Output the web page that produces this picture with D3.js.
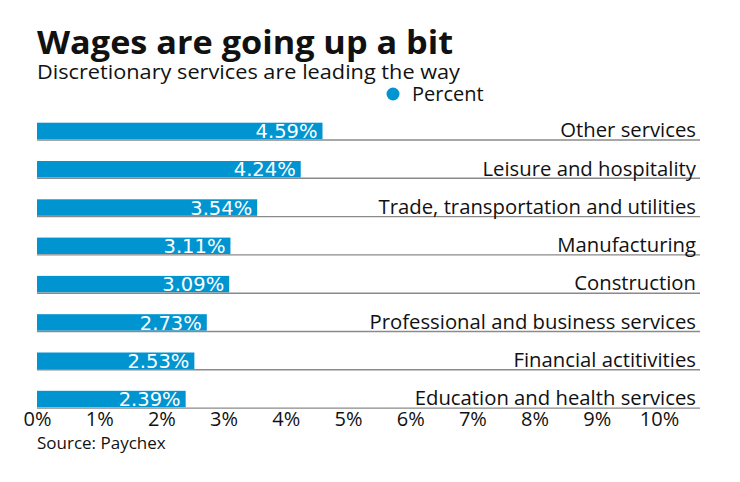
<!DOCTYPE html>
<html><head><meta charset="utf-8">
<script src="https://cdn.jsdelivr.net/npm/d3@7"></script>
<style>body{margin:0;background:#fff}svg{display:block}</style>
</head><body>
<svg id="c" width="740" height="482"></svg>
<script>
const categories = ["Other services","Leisure and hospitality","Trade, transportation and utilities","Manufacturing","Construction","Professional and business services","Financial actitivities","Education and health services"];
const percentValues = [4.59,4.24,3.54,3.11,3.09,2.73,2.53,2.39];
const tickValues = [0,1,2,3,4,5,6,7,8,9,10];
const titleText = "Wages are going up a bit";
const subtitleText = "Discretionary services are leading the way";
const legendText = "Percent";
const sourceText = "Source: Paychex";

const svg = d3.select("#c");
const font = "'Open Sans', sans-serif";
const blue = "#0095d1";

const x = d3.scaleLinear().domain([0,10]).range([37,659]);

function fit(sel, w){
  sel.attr("textLength", w).attr("lengthAdjust","spacingAndGlyphs");
}

const t = svg.append("text").attr("x",37).attr("y",54).attr("font-family",font).attr("font-weight",700)
  .attr("font-size",32).attr("fill","#111").text(titleText);
fit(t, 416);
const st = svg.append("text").attr("x",37).attr("y",79).attr("font-family",font)
  .attr("font-size",19.5).attr("fill","#111").text(subtitleText);
fit(st, 423);
svg.append("circle").attr("cx",393).attr("cy",94).attr("r",6.5).attr("fill",blue);
svg.append("text").attr("x",412).attr("y",101).attr("font-family",font)
  .attr("font-size",20).attr("fill","#111").text(legendText);

const rows = svg.append("g").selectAll("g").data(categories).join("g");
const bandStep = 38.3;
const barH = 16.5;
rows.append("rect")
  .attr("x", x(0))
  .attr("y", (d,i)=> 122.7 + i*bandStep)
  .attr("width", (d,i)=> x(percentValues[i]) - x(0))
  .attr("height", barH)
  .attr("fill", blue);
rows.append("line")
  .attr("x1", x(0)).attr("x2", 700)
  .attr("y1", (d,i)=> 122.7 + i*bandStep + barH + 0.8)
  .attr("y2", (d,i)=> 122.7 + i*bandStep + barH + 0.8)
  .attr("stroke","#8a8a8a").attr("stroke-width",1.4);
rows.append("text")
  .attr("x", (d,i)=> x(percentValues[i]) - 5)
  .attr("y", (d,i)=> 122.7 + i*bandStep + 15.3)
  .attr("text-anchor","end")
  .attr("font-family","'DejaVu Sans', sans-serif")
  .attr("font-size",19.5).attr("fill","#fff")
  .text((d,i)=> percentValues[i].toFixed(2) + "%");
rows.append("text")
  .attr("x", 696)
  .attr("y", (d,i)=> 122.7 + i*bandStep + 14.5)
  .attr("text-anchor","end")
  .attr("font-family",font)
  .attr("font-size",20.3).attr("fill","#111")
  .text(d=>d);

const axis = d3.axisBottom(x).tickValues(tickValues).tickSize(0).tickPadding(0).tickFormat(d=>d+"%");
const ag = svg.append("g").attr("transform","translate(0,411.5)").call(axis);
ag.select(".domain").remove();
ag.selectAll("text").attr("font-family",font).attr("font-size",20).attr("fill","#111");

svg.append("text").attr("x",37).attr("y",449).attr("font-family",font)
  .attr("font-size",17).attr("fill","#111").text(sourceText);
</script>
</body></html>
